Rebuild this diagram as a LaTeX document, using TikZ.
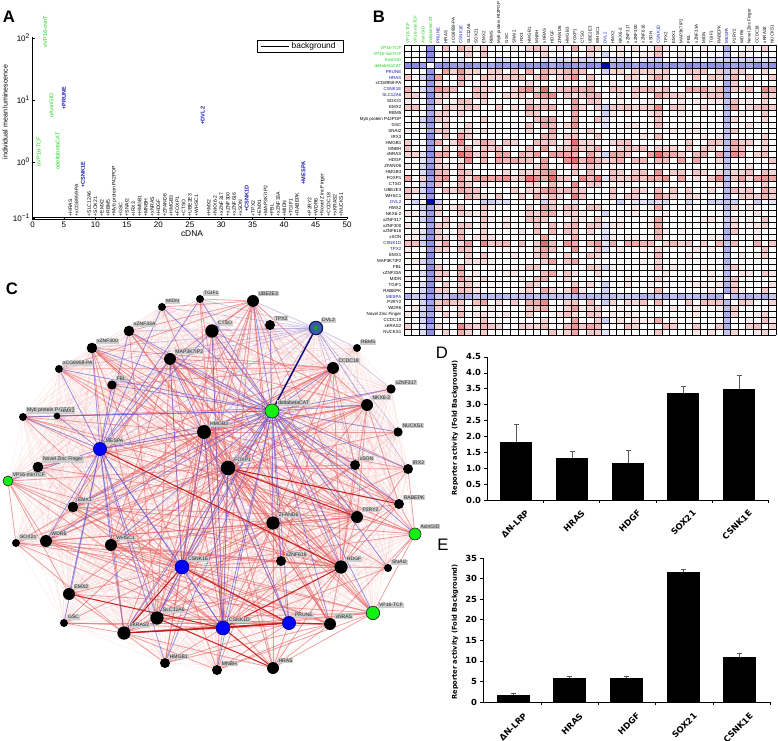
\documentclass[tikz,border=0pt]{standalone}
\usepackage{fontspec}
\setmainfont{Liberation Sans}
\newfontfamily\verd{DejaVu Sans}
\pgfdeclarelayer{bg}
\pgfsetlayers{bg,main}
\definecolor{hb}{RGB}{85,85,215}
\definecolor{hr}{RGB}{215,30,30}
\definecolor{agreen}{RGB}{30,210,30}
\definecolor{ablue}{RGB}{25,25,185}
\definecolor{labgray}{RGB}{205,205,205}
\definecolor{eblue}{RGB}{85,85,220}
\definecolor{ered}{RGB}{228,95,95}
\definecolor{dred}{RGB}{195,20,20}
\definecolor{nblue}{RGB}{0,0,250}
\definecolor{ngreen}{RGB}{20,240,20}
\definecolor{dvlfill}{RGB}{60,90,170}
\definecolor{dvldraw}{RGB}{10,20,90}
\definecolor{dkblue}{RGB}{10,10,120}
\newcommand\myfs[1]{\fontsize{#1}{#1}\selectfont}
\def\hnames{VP16-TCF,VP16-minTCF,AxinGID,deltabetaCAT,PRUNE,HRAS,xCG8959-PA,CSNK1E,SLC12A6,SOX21,EMX2,RBM5,Myb protein P42POP,GSC,SNAI2,IRX3,HMGB1,MNBH,xNRAS,HDGF,ZFAND6,HMGB3,FOXP1,CTSO,UBE2E3,WHSC1,DVL2,HMX2,NKX6-2,xZNF317,xZNF300,xZNF616,xSON,CSNK1D,TPX2,EMX1,MAP3K7IP2,FBL,xZNF33A,MIDN,TGIF1,RABEPK,MESPA,P2RY2,WDR6,Novel Zinc Finger,CCDC18,xKRAS2,NUCKS1}
\def\Rw{{0, 0,0,0,0,1,1,0,2,1,0, 1,0,0,0,0,0,1,1,2,2, 0,1,3,0,1,1,0,0,0,0, 0,0,0,2,0,0,0,0,0,0, 0,0,1,1,0,0,0,1,0}}
\def\Bw{{0, 0,0,1,3,0,0,0,0,0,0, 0,0,0,0,0,0,0,0,0,0, 0,0,0,0,0,0,1,0,0,0, 0,0,0,0,0,0,0,0,0,0, 0,0,2,0,0,0,0,0,0}}
\def\Crow{{0, 1,1,1,1,2,2,0,2,2,0, 0,0,0,0,0,0,0,0,0,0, 0,0,0,0,0,0,2,0,0,0, 0,0,0,2,2,0,0,0,0,0, 0,0,2,0,0,0,0,0,0}}
\def\Ccol{{0, 1,1,1,1,2,0,0,2,0,0, 0,0,0,0,0,0,0,0,0,0, 0,0,0,0,0,0,2,0,0,0, 0,0,0,2,0,0,0,0,0,0, 0,0,2,0,0,0,0,0,0}}
\def\Ybase{{0, 167,48,118,170,110,217,217,188,217,217, 217,217,217,217,217,217,217,217,217,217, 217,217,217,217,217,217,125,217,217,217, 217,217,217,212,217,217,217,217,217,217, 217,217,185,217,217,217,217,217,217}}
\def\netnodes{midn,tgif,ube,tpx,dvl,rbm,znfa,ctso,znfb,map,xcg,ccdc,fbl,dbc,myb,hmx,hmgbc,mespa,nkx,znfc,nucks,xson,irx,rab,p2ry,axin,snai,foxp,nzf,vpm,emxa,zfand,sox,wdr,whsc,cke,znfd,hdgf,emxb,vpt,gsc,slc,kras,ckd,prune,nras,hmgba,mnbh,hras}
\begin{document}
\begin{tikzpicture}[x=0.75pt,y=-0.75pt,
  nb/.style={circle,fill=black,inner sep=0pt,minimum size=#1},
  nbl/.style={circle,fill=nblue,draw=black!60!blue,line width=0.4pt,inner sep=0pt,minimum size=#1},
  ngr/.style={circle,fill=ngreen,draw=black!85,line width=0.5pt,inner sep=0pt,minimum size=#1},
  lab/.style={fill=labgray,inner sep=0.6pt,font=\myfs{3.8},text=black!85},
  faint/.style={draw=ered,opacity=0.13,line width=0.35pt},
  pk/.style={draw=ered,opacity=0.55,line width=0.6pt},
  bl/.style={draw=eblue,opacity=0.62,line width=0.55pt},
  lbl/.style={draw=eblue,opacity=0.28,line width=0.5pt},
  sr/.style={draw=dred,opacity=0.9,line width=0.8pt},
  axl/.style={line width=0.5pt},
  gridl/.style={line width=0.45pt,draw=black},
  tickD/.style={anchor=east,font=\verd\bfseries\myfs{6.3},inner sep=0.5pt},
  xlab/.style={rotate=45,anchor=east,font=\verd\bfseries\myfs{6.3},inner sep=0.5pt},
  ylab/.style={rotate=90,font=\verd\bfseries\myfs{5}},
  errb/.style={draw=black!65,line width=0.6pt},
  plab/.style={font=\bfseries\myfs{12.5}},
  plabn/.style={font=\myfs{12.5}},
]
\useasboundingbox (0,0) rectangle (778,741);

% ---------------- Panel A ----------------
\node[plab] (labA) at (9,17) {A};
\draw[axl] (32.5,37) -- (32.5,219) -- (347,219);
\draw[line width=0.4pt] (32.5,217.5) -- (347,217.5);
\foreach \k in {0,...,10}{
  \pgfmathtruncatemacro\lv{5*\k}
  \draw[axl] (32.5+31.45*\k,219) -- (32.5+31.45*\k,217);
  \node[font=\myfs{6},inner sep=0.5pt] (ax\k) at (32.5+31.45*\k,225) {\lv};
}
\foreach \yy/\ee [count=\i] in {38/2,100/1,162/0,218/−1}{
  \draw[axl] (32.5,\yy) -- (34.5,\yy);
  \node[anchor=east,font=\myfs{6},inner sep=0.5pt] (ay\i) at (31,\yy) {10\textsuperscript{\ee}};
}
\node[rotate=90,font=\myfs{5.3}] (ylA) at (5,112) {individual mean luminescence};
\node[font=\myfs{6.3}] (xlA) at (192,234) {cDNA};
\node[draw,line width=0.4pt,minimum width=64.5pt,minimum height=9pt,inner sep=0pt] (leg) at (300,46) {};
\draw[line width=0.4pt] ([xshift=3pt]leg.west) -- ([xshift=24pt]leg.west);
\node[anchor=west,font=\myfs{6.3},inner sep=0.5pt] (legt) at ([xshift=25.5pt]leg.west) {background};

% ---------------- Panel B ----------------
\node[plab] (labB) at (379,17) {B};
\foreach \rr in {1,...,49}{
  \foreach \ccn in {1,...,49}{
    \pgfmathsetmacro\hu{mod(abs(1000*sin(\rr*\ccn*3.1+(\rr+\ccn)*11.3)),1)}
    \pgfmathtruncatemacro\bwv{max(\Bw[\rr],\Bw[\ccn])}
    \pgfmathtruncatemacro\rwv{\Rw[\rr]+\Rw[\ccn]}
    \pgfmathtruncatemacro\biv{\bwv==3 ? 50+20*\hu : (\bwv==2 ? 30+20*\hu : (\bwv==1 ? (\hu>0.4 ? 8+22*\hu : 0) : 0))}
    \pgfmathtruncatemacro\riv{\rwv==0 ? (\hu>0.8 ? 6+45*(\hu-0.8) : 0) : (\hu>0.6-0.15*\rwv ? 8+\hu*(8+13*\rwv) : 0)}
    \ifnum\rr=\ccn \def\biv{0}\def\riv{0}\fi
    \ifnum\biv>0
      \fill[hb!\biv] (404+7.592*\ccn-7.592,45+5.918*\rr-5.918) rectangle ++(7.592,5.918);
    \else\ifnum\riv>0
      \fill[hr!\riv] (404+7.592*\ccn-7.592,45+5.918*\rr-5.918) rectangle ++(7.592,5.918);
    \fi\fi
  }
}
\fill[blue!75!black] (404+7.592*26,45+5.918*3) rectangle ++(7.592,5.918);
\fill[blue!75!black] (404+7.592*3,45+5.918*26) rectangle ++(7.592,5.918);
\foreach \k in {0,...,49}{
  \draw[gridl] (404,45+5.918*\k) -- (776,45+5.918*\k);
  \draw[gridl] (404+7.592*\k,45) -- (404+7.592*\k,335);
}
\foreach \nm [count=\i] in \hnames {
  \pgfmathtruncatemacro\crw{\Crow[\i]}
  \pgfmathtruncatemacro\ccl{\Ccol[\i]}
  \pgfmathsetmacro\yb{\Ybase[\i]}
  \ifcase\crw \def\rcol{black}\or \def\rcol{agreen}\else \def\rcol{ablue}\fi
  \ifcase\ccl \def\ccol{black}\def\mk{+}\def\af{\myfs{3.8}}\or \def\ccol{agreen}\def\mk{o}\def\af{\myfs{4.2}}\else \def\ccol{ablue}\def\mk{+}\def\af{\bfseries\myfs{4.2}}\fi
  \ifnum\i=2 \def\anm{VP16-minT}\else \let\anm\nm\fi
  \node[anchor=east,text=\rcol,font=\myfs{3.3},inner sep=0.4pt] (hr\i) at (402,45+5.918*\i-2.959) {\nm};
  \node[rotate=90,anchor=west,text=\ccol,font=\myfs{3.3},inner sep=0.4pt] (hc\i) at (404+7.592*\i-3.796,44) {\nm};
  \node[rotate=90,anchor=west,text=\ccol,font=\af,inner sep=0.3pt] (al\i) at (32.5+6.3*\i,\yb) {\mk\anm};
}

% ---------------- Panel C ----------------
\node[plab] (labC) at (12,289) {C};
\node[nb=6pt,label={[lab]north east:MIDN}] (midn) at (162,307) {};
\node[nb=6pt,label={[lab]north east:TGIF1}] (tgif) at (200,299) {};
\node[nb=9pt,label={[lab]north east:UBE2E3}] (ube) at (253,301) {};
\node[nb=7.5pt,label={[lab]north east:TPX2}] (tpx) at (270,325) {};
\node[circle,fill=dvlfill,draw=dvldraw,line width=0.8pt,inner sep=0pt,minimum size=10pt,
  path picture={\fill[ngreen!70!black] (path picture bounding box.center) circle (2.2);},
  label={[lab]north east:DVL2}] (dvl) at (316,328) {};
\node[nb=6pt,label={[lab]north east:RBM5}] (rbm) at (357,348) {};
\node[nb=8pt,label={[lab]north east:xZNF33A}] (znfa) at (129,331) {};
\node[nb=10pt,label={[lab]north east:CTSO}] (ctso) at (212,331) {};
\node[nb=8pt,label={[lab]north east:xZNF300}] (znfb) at (92,348) {};
\node[nb=9pt,label={[lab]north east:MAP3K7IP2}] (map) at (170,359) {};
\node[nb=6pt,label={[lab]north east:xCG8959-PA}] (xcg) at (59,369) {};
\node[nb=9pt,label={[lab]north east:CCDC18}] (ccdc) at (333,368) {};
\node[nb=7pt,label={[lab]north east:FBL}] (fbl) at (112,385) {};
\node[nb=6pt,label={[lab]north east:Myb protein P42POP}] (myb) at (23,417) {};
\node[nb=5pt,label={[lab]north east:HMX2}] (hmx) at (57,416) {};
\node[ngr=10.5pt,label={[lab]north east:deltabetaCAT}] (dbc) at (272,411) {};
\node[nb=10.5pt,label={[lab]north east:HMGB3}] (hmgbc) at (204,432) {};
\node[nbl=10pt,label={[lab]north east:MESPA}] (mespa) at (100,449) {};
\node[nb=9pt,label={[lab]north east:NKX6-2}] (nkx) at (367,405) {};
\node[nb=7pt,label={[lab]north east:xZNF317}] (znfc) at (391,389) {};
\node[nb=7pt,label={[lab]north east:NUCKS1}] (nucks) at (398,432) {};
\node[nb=7.5pt,label={[lab]north east:xSON}] (xson) at (355,465) {};
\node[nb=7.5pt,label={[lab]north east:IRX3}] (irx) at (408,469) {};
\node[nb=7.5pt,label={[lab]north east:RABEPK}] (rab) at (399,504) {};
\node[nb=9pt,label={[lab]north east:P2RY2}] (p2ry) at (357,517) {};
\node[ngr=9pt,label={[lab]north east:AxinGID}] (axin) at (415,534) {};
\node[nb=6pt,label={[lab]north east:SNAI2}] (snai) at (388,568) {};
\node[nb=11pt,label={[lab]north east:FOXP1}] (foxp) at (228,468) {};
\node[nb=8pt,label={[lab]north east:Novel Zinc Finger}] (nzf) at (38,467) {};
\node[ngr=7.5pt,label={[lab]north east:VP16-minTCF}] (vpm) at (8,481) {};
\node[nb=8pt,label={[lab]north east:EMX1}] (emxa) at (73,507) {};
\node[nb=10pt,label={[lab]north east:ZFAND6}] (zfand) at (273,523) {};
\node[nb=6pt,label={[lab]north east:SOX21}] (sox) at (16,543) {};
\node[nb=9pt,label={[lab]north east:WDR6}] (wdr) at (46,541) {};
\node[nb=9pt,label={[lab]north east:WHSC1}] (whsc) at (111,545) {};
\node[nbl=10.5pt,label={[lab]north east:CSNK1E}] (cke) at (182,567) {};
\node[nb=7.5pt,label={[lab]north east:xZNF616}] (znfd) at (281,561) {};
\node[nb=10pt,label={[lab]north east:HDGF}] (hdgf) at (341,567) {};
\node[nb=9pt,label={[lab]north east:EMX2}] (emxb) at (69,594) {};
\node[ngr=10pt,label={[lab]north east:VP16-TCF}] (vpt) at (373,613) {};
\node[nb=6pt,label={[lab]north east:GSC}] (gsc) at (64,623) {};
\node[nb=10pt,label={[lab]north east:SLC12A6}] (slc) at (157,618) {};
\node[nb=10pt,label={[lab]north east:xKRAS2}] (kras) at (124,633) {};
\node[nbl=10.5pt,label={[lab]north east:CSNK1D}] (ckd) at (223,628) {};
\node[nbl=10pt,label={[lab]north east:PRUNE}] (prune) at (289,623) {};
\node[nb=9pt,label={[lab]north east:xNRAS}] (nras) at (330,624) {};
\node[nb=7.5pt,label={[lab]north east:HMGB1}] (hmgba) at (165,663) {};
\node[nb=7.5pt,label={[lab]north east:MNBH}] (mnbh) at (217,670) {};
\node[nb=9pt,label={[lab]north east:HRAS}] (hras) at (273,668) {};

\begin{pgfonlayer}{bg}
\foreach \na [count=\i] in \netnodes {
  \foreach \nbb [count=\j] in \netnodes {
    \ifnum\j>\i \draw[faint] (\na) -- (\nbb); \fi
  }
}
\foreach \h/\ts in {
  foxp/{midn,tgif,ube,ctso,znfa,znfb,map,xcg,fbl,myb,emxa,wdr,whsc,slc,kras,hmgba,mnbh,hras,nras,vpt,znfd,zfand,irx,xson,nucks,nkx,ccdc,snai,axin,sox,gsc,emxb,hdgf,ckd,cke},
  cke/{wdr,sox,emxa,emxb,gsc,whsc,slc,hmgba,mnbh,hras,nras,hdgf,znfd,zfand,p2ry,hmgbc,map,ctso,znfb,ube,vpt,xson,irx,nzf,myb},
  ckd/{gsc,slc,hmgba,mnbh,nras,vpt,znfd,zfand,whsc,wdr,emxa,sox,ube,ctso,tgif,map,hmgbc,p2ry,rab,snai},
  hdgf/{wdr,whsc,emxa,sox,myb,hmgbc,map,ctso,ube,ccdc,nkx,xson,irx,rab,snai,p2ry,vpt,nras,prune,hras,slc,kras,znfb,xcg},
  ube/{ctso,tgif,midn,map,hmgbc,zfand,whsc,slc,p2ry,znfd,nkx,xcg,znfa},
  ccdc/{mespa,fbl,hmgbc,zfand,znfd,xson,emxa,wdr,cke,kras,map,xcg,znfb},
  hmgbc/{wdr,whsc,emxa,sox,myb,znfb,xcg,ccdc,nkx,znfc,nucks,irx,rab,p2ry,vpt,prune,nras,hras,ckd,slc,kras,hmgba,nzf},
  nkx/{map,ctso,mespa,wdr,emxa,zfand,p2ry,rab,whsc,nzf,myb},
  p2ry/{emxa,whsc,ctso,zfand,kras,wdr,mespa,myb,nzf},
  map/{wdr,whsc,emxa,rab,vpt,slc,nras,zfand,xson,irx},
  znfb/{p2ry,rab,zfand,slc,kras},
  znfa/{p2ry,zfand,slc,rab},
  prune/{kras,wdr,whsc,emxa,slc,hmgba,mnbh,hras,zfand,gsc},
  nras/{slc,hmgba,mnbh,hras,zfand,whsc,wdr,ctso},
  kras/{gsc,emxb,sox,whsc,hmgba,mnbh,hras,slc,zfand},
  zfand/{emxa,wdr,whsc,vpt,hras,mnbh,slc,xson,rab},
  vpm/{foxp,cke,ckd,hdgf,emxb,wdr,sox,nzf,emxa},
  axin/{hmgbc,foxp,cke,zfand,xson,p2ry,rab,irx,snai,vpt,nras},
  vpt/{slc,kras,emxb,whsc,hras,mnbh}}{
  \foreach \tg in \ts { \draw[pk] (\h) -- (\tg); }
}
\foreach \tg in {znfa,ctso,tpx,ube,map,rbm,ccdc,tgif,midn,znfb,nkx,znfc,xcg,fbl,hmgbc,mespa,nucks,foxp,xson,irx}{
  \draw[lbl] (dvl) -- (\tg);
}
\foreach \h/\ts in {
  dbc/{midn,tgif,ube,tpx,ctso,znfa,znfb,map,xcg,fbl,myb,hmx,hmgbc,mespa,nkx,znfc,nucks,xson,irx,rab,p2ry,zfand,cke,ckd,prune,nras,snai,hdgf,emxa,wdr,whsc,znfd,foxp,slc,kras,hmgba,axin,vpt,ccdc,mnbh},
  mespa/{znfb,znfa,tgif,midn,fbl,myb,xcg,hmx,ctso,map,hmgbc,emxa,wdr,emxb,gsc,whsc,slc,kras,hmgba,cke,ckd,vpm},
  cke/{foxp,hmgbc,ckd,slc,kras,map},
  ckd/{foxp,hmgbc,ctso},
  prune/{foxp,map}}{
  \foreach \tg in \ts { \draw[bl] (\h) -- (\tg); }
}
\foreach \h/\tg in {mespa/hdgf,foxp/p2ry,foxp/rab,cke/prune,ckd/hdgf,emxb/ckd,kras/prune,ckd/hras,slc/hras,cke/kras,kras/ckd,prune/nras,ckd/prune}{
  \draw[sr] (\h) -- (\tg);
}
\draw[draw=dkblue,line width=1.1pt] (dvl) -- (dbc);
\end{pgfonlayer}

% ---------------- Panel D ----------------
\node[plabn] (labD) at (442,353) {D};
\draw[axl] (487,357) -- (487,500) -- (768,500);
\foreach \k/\l in {0/0.0,1/0.5,2/1.0,3/1.5,4/2.0,5/2.5,6/3.0,7/3.5,8/4.0,9/4.5}{
  \draw[axl] (487,500-15.89*\k) -- (484,500-15.89*\k);
  \node[tickD] (dt\k) at (482,500-15.89*\k) {\l};
}
\foreach \x in {543,599,656,712,768}{ \draw[axl] (\x,500) -- (\x,503); }
\foreach \x/\v/\e/\n [count=\i] in {500/1.83/2.38/ΔN-LRP,556/1.32/1.53/HRAS,612/1.15/1.56/HDGF,667/3.38/3.58/SOX21,723/3.48/3.93/CSNK1E}{
  \fill[black] (\x,500) rectangle (\x+32,500-31.78*\v);
  \draw[errb] (\x+16,500-31.78*\v) -- (\x+16,500-31.78*\e) (\x+13.5,500-31.78*\e) -- (\x+18.5,500-31.78*\e);
  \node[xlab] (dx\i) at (\x+28,511) {\n};
}
\node[ylab] (dyl) at (455,428) {Reporter activity (Fold Background)};

% ---------------- Panel E ----------------
\node[plabn] (labE) at (443,545) {E};
\draw[axl] (483,558) -- (483,702) -- (770,702);
\foreach \k/\l in {0/0,1/5,2/10,3/15,4/20,5/25,6/30,7/35}{
  \draw[axl] (483,702-20.57*\k) -- (480,702-20.57*\k);
  \node[tickD] (et\k) at (478,702-20.57*\k) {\l};
}
\foreach \x in {541,598,655,713,770}{ \draw[axl] (\x,702) -- (\x,705); }
\foreach \x/\v/\e/\n [count=\i] in {497/1.8/2.0/ΔN-LRP,553/5.9/6.2/HRAS,610/5.8/6.3/HDGF,667/31.5/32.3/SOX21,723/11.0/11.7/CSNK1E}{
  \fill[black] (\x,702) rectangle (\x+33,702-4.114*\v);
  \draw[errb] (\x+16.5,702-4.114*\v) -- (\x+16.5,702-4.114*\e) (\x+14,702-4.114*\e) -- (\x+19,702-4.114*\e);
  \node[xlab] (ex\i) at (\x+29,714) {\n};
}
\node[ylab] (eyl) at (455,632) {Reporter activity (Fold Background)};
\end{tikzpicture}
\end{document}
